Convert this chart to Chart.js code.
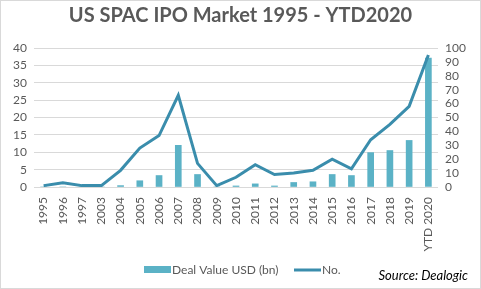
<!DOCTYPE html>
<html>
<head>
<meta charset="utf-8">
<script src="https://cdn.jsdelivr.net/npm/chart.js@4/dist/chart.umd.min.js"></script>
<style>
  html, body { margin: 0; padding: 0; background: #fff; }
  #wrap { width: 481px; height: 289px; }
</style>
</head>
<body>
<div id="wrap"><canvas id="myChart" width="481" height="289"></canvas></div>
<script>
var years = ['1995', '1996', '1997', '2003', '2004', '2005', '2006', '2007', '2008', '2009', '2010',
    '2011', '2012', '2013', '2014', '2015', '2016', '2017', '2018', '2019', 'YTD 2020'];
var dealValue = [0, 0, 0, 0, 0.4, 1.8, 3.3, 12.0, 3.6, 0, 0.3,
    0.9, 0.3, 1.3, 1.5, 3.6, 3.3, 9.9, 10.5, 13.4, 37.1];
var dealCount = [1, 3, 1, 1, 12, 28, 37, 66, 17, 1, 7,
    16, 9, 10, 12, 20, 13, 34, 45, 58, 95];
var leftTicks = [0, 5, 10, 15, 20, 25, 30, 35, 40];
var rightTicks = [0, 10, 20, 30, 40, 50, 60, 70, 80, 90, 100];

var grey = '#595959';
var barColor = '#5BB2C6';
var lineColor = '#3A8DAC';
var font = 'Lato';

// frame, legend and source line
var extras = {
    id: 'extras',
    beforeDraw: function (chart) {
        var c = chart.ctx;
        c.save();
        c.fillStyle = '#fff';
        c.fillRect(0, 0, chart.width, chart.height);
        c.restore();
    },
    afterDraw: function (chart) {
        var c = chart.ctx;
        c.save();
        c.strokeStyle = '#d9d9d9';
        c.lineWidth = 1;
        c.strokeRect(0.5, 0.5, chart.width - 1, chart.height - 1);

        c.fillStyle = barColor;
        c.fillRect(144, 266, 27, 7);
        c.font = '12px ' + font;
        c.fillStyle = grey;
        c.textBaseline = 'middle';
        c.fillText('Deal Value USD (bn)', 172, 270);

        c.strokeStyle = lineColor;
        c.lineWidth = 3;
        c.beginPath();
        c.moveTo(294, 270);
        c.lineTo(321, 270);
        c.stroke();
        c.fillText('No.', 322, 270);

        c.font = 'italic 13px ' + font;
        c.fillStyle = '#000';
        c.textAlign = 'right';
        c.fillText('Source: Dealogic', 468, 276);
        c.restore();
    }
};

var ctx = document.getElementById('myChart').getContext('2d');
var myChart = new Chart(ctx, {
    type: 'bar',
    data: {
        labels: years,
        datasets: [{
            type: 'line',
            label: 'No.',
            data: dealCount,
            yAxisID: 'yRight',
            borderColor: lineColor,
            borderWidth: 3,
            pointRadius: 0,
            tension: 0,
            fill: false,
            order: 0
        }, {
            type: 'bar',
            label: 'Deal Value USD (bn)',
            data: dealValue,
            yAxisID: 'yLeft',
            backgroundColor: barColor,
            barThickness: 6,
            order: 1
        }]
    },
    options: {
        responsive: false,
        animation: false,
        layout: { padding: { left: 0, right: 0, top: 0, bottom: 0 } },
        plugins: {
            legend: { display: false },
            tooltip: { enabled: false },
            title: {
                display: true,
                text: 'US SPAC IPO Market 1995 - YTD2020',
                color: grey,
                font: { family: font, size: 20, weight: 'bold' },
                padding: { top: 4, bottom: 20 }
            }
        },
        scales: {
            x: {
                grid: { display: false },
                border: { display: false },
                ticks: {
                    color: grey,
                    font: { family: font, size: 12 },
                    minRotation: 90,
                    maxRotation: 90,
                    autoSkip: false,
                    padding: 2
                },
                afterFit: function (scale) { scale.height = 102; }
            },
            yLeft: {
                position: 'left',
                min: 0,
                max: 40,
                afterBuildTicks: function (scale) {
                    scale.ticks = leftTicks.map(function (v) { return { value: v }; });
                },
                grid: { color: '#d9d9d9', drawTicks: false },
                border: { display: false },
                ticks: { color: grey, font: { family: font, size: 12 }, padding: 7, autoSkip: false },
                afterFit: function (scale) { scale.width = 34; }
            },
            yRight: {
                position: 'right',
                min: 0,
                max: 100,
                afterBuildTicks: function (scale) {
                    scale.ticks = rightTicks.map(function (v) { return { value: v }; });
                },
                grid: { display: false, drawTicks: false },
                border: { display: false },
                ticks: { color: grey, font: { family: font, size: 12 }, padding: 7, autoSkip: false },
                afterFit: function (scale) { scale.width = 43; }
            }
        }
    },
    plugins: [extras]
});
</script>
</body>
</html>
